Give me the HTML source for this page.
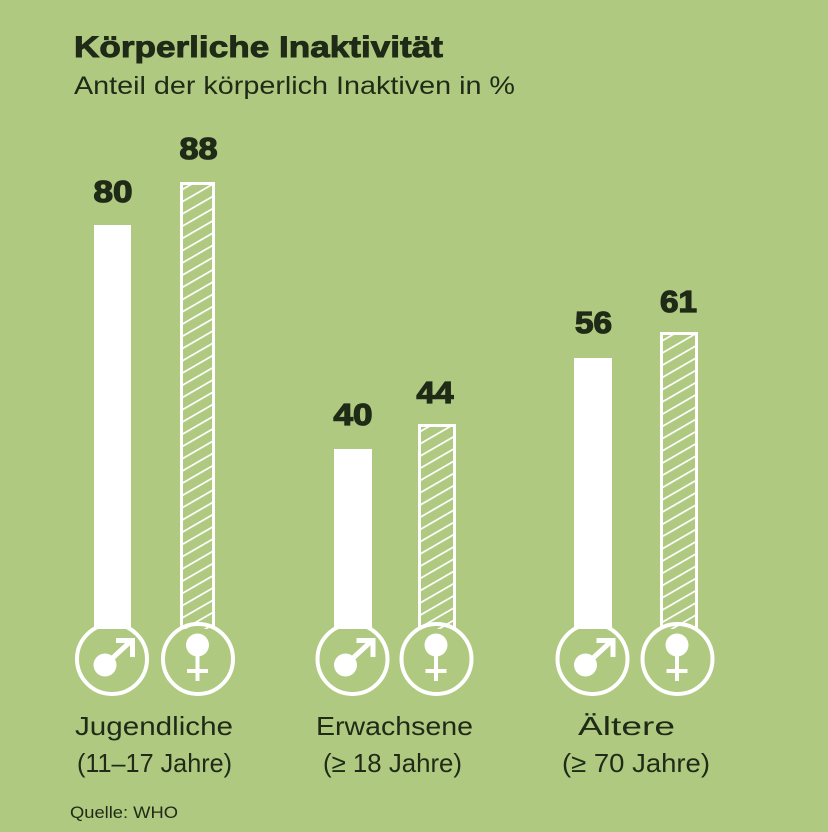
<!DOCTYPE html>
<html><head><meta charset="utf-8"><style>
html,body{margin:0;padding:0;background:#afc980;}
svg{display:block;}
text{font-family:"Liberation Sans",sans-serif;fill:#1f2a17;}
</style></head><body>
<svg width="828" height="832" viewBox="0 0 828 832" xmlns="http://www.w3.org/2000/svg">
<defs>
<pattern id="h" width="10.6" height="10.6" patternUnits="userSpaceOnUse" patternTransform="rotate(-30)">
<rect x="0" y="0" width="10.6" height="1.7" fill="#fff"/>
</pattern>
</defs>
<rect width="828" height="832" fill="#afc980"/>
<text x="74" y="57" font-size="30" font-weight="bold" textLength="369" lengthAdjust="spacingAndGlyphs" stroke="#1f2a17" stroke-width="0.9">Körperliche Inaktivität</text>
<text x="74" y="94" font-size="25" textLength="441" lengthAdjust="spacingAndGlyphs" fill="#2a3520">Anteil der körperlich Inaktiven in %</text>

<!-- bars -->
<g fill="#fff">
<rect x="94" y="225" width="37" height="404"/>
<rect x="334" y="449" width="38" height="180"/>
<rect x="574" y="358" width="38" height="271"/>
</g>
<g>
<rect x="182" y="185" width="32" height="444" fill="url(#h)"/>
<path d="M181.5 629 V183.5 H213.5 V629" fill="none" stroke="#fff" stroke-width="3"/>
<rect x="420" y="427" width="34" height="202" fill="url(#h)"/>
<path d="M419.5 629 V425.5 H454.5 V629" fill="none" stroke="#fff" stroke-width="3"/>
<rect x="662" y="335" width="34" height="294" fill="url(#h)"/>
<path d="M661.5 629 V333.5 H696.5 V629" fill="none" stroke="#fff" stroke-width="3"/>
</g>

<!-- numbers -->
<g font-size="31" font-weight="bold" text-anchor="middle" stroke="#1f2a17" stroke-width="1.3">
<text x="113" y="202" textLength="39" lengthAdjust="spacingAndGlyphs">80</text>
<text x="198.5" y="159" textLength="38" lengthAdjust="spacingAndGlyphs">88</text>
<text x="353" y="425" textLength="39" lengthAdjust="spacingAndGlyphs">40</text>
<text x="435" y="403" textLength="37" lengthAdjust="spacingAndGlyphs">44</text>
<text x="593.5" y="333" textLength="37" lengthAdjust="spacingAndGlyphs">56</text>
<text x="678.5" y="312" textLength="37" lengthAdjust="spacingAndGlyphs">61</text>
</g>

<!-- circles -->
<g fill="none" stroke="#fff" stroke-width="4">
<circle cx="112" cy="659" r="35"/>
<circle cx="198" cy="659" r="35"/>
<circle cx="352.5" cy="659" r="35"/>
<circle cx="436.5" cy="659" r="35"/>
<circle cx="592.5" cy="659" r="35"/>
<circle cx="677.5" cy="659" r="35"/>
</g>

<!-- male symbols -->
<g>
<circle cx="105" cy="665" r="11.5" fill="#fff"/>
<path d="M105 665 L131 641 M116 640.5 H132.5 V657" fill="none" stroke="#fff" stroke-width="5"/>
</g>
<g transform="translate(240.5,0)">
<circle cx="105" cy="665" r="11.5" fill="#fff"/>
<path d="M105 665 L131 641 M116 640.5 H132.5 V657" fill="none" stroke="#fff" stroke-width="5"/>
</g>
<g transform="translate(480.5,0)">
<circle cx="105" cy="665" r="11.5" fill="#fff"/>
<path d="M105 665 L131 641 M116 640.5 H132.5 V657" fill="none" stroke="#fff" stroke-width="5"/>
</g>

<!-- female symbols -->
<g>
<circle cx="197.5" cy="645" r="11.5" fill="#fff"/>
<path d="M197.5 655 V681 M187 671 H208" fill="none" stroke="#fff" stroke-width="4"/>
</g>
<g transform="translate(238.5,0)">
<circle cx="197.5" cy="645" r="11.5" fill="#fff"/>
<path d="M197.5 655 V681 M187 671 H208" fill="none" stroke="#fff" stroke-width="4"/>
</g>
<g transform="translate(479.5,0)">
<circle cx="197.5" cy="645" r="11.5" fill="#fff"/>
<path d="M197.5 655 V681 M187 671 H208" fill="none" stroke="#fff" stroke-width="4"/>
</g>

<!-- labels -->
<g font-size="26" text-anchor="middle" fill="#233018">
<text x="154" y="735" textLength="158" lengthAdjust="spacingAndGlyphs">Jugendliche</text>
<text x="154.5" y="772" textLength="155" lengthAdjust="spacingAndGlyphs">(11–17 Jahre)</text>
<text x="394.5" y="735" textLength="157" lengthAdjust="spacingAndGlyphs">Erwachsene</text>
<text x="392.5" y="772" textLength="139" lengthAdjust="spacingAndGlyphs">(≥ 18 Jahre)</text>
<text x="626.5" y="735" textLength="97" lengthAdjust="spacingAndGlyphs">Ältere</text>
<text x="636" y="772" textLength="148" lengthAdjust="spacingAndGlyphs">(≥ 70 Jahre)</text>
</g>
<text x="70" y="818" font-size="17" textLength="108" lengthAdjust="spacingAndGlyphs">Quelle: WHO</text>
</svg>
</body></html>
